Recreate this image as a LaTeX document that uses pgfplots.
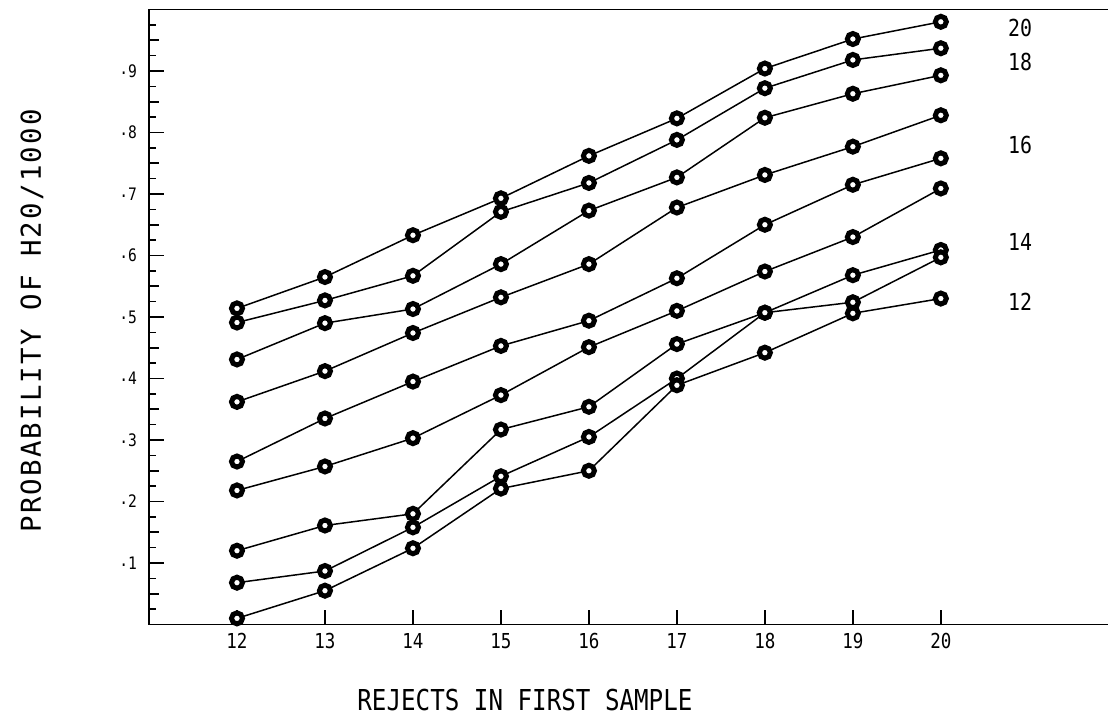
\documentclass[border=0pt]{standalone}
\usepackage{fontspec}
\usepackage{pgfplots}
\pgfplotsset{compat=1.18}
\newfontfamily\ylabfont{DejaVu Sans Mono}[LetterSpace=8]
\newfontfamily\xlabfont{DejaVu Sans Mono}[FakeStretch=0.84]
\newfontfamily\tickfont{DejaVu Sans Mono}[FakeStretch=0.85]
\newcommand{\dt}{\raisebox{1.6pt}{.}}
\pgfplotsset{ser/.style={black, solid, line width=0.75pt, mark=*,
     mark options={line width=2.5pt, draw=black, fill=white, mark size=2.75pt, solid}}}
\begin{document}
\begin{tikzpicture}
\begin{axis}[
  at={(0,0)}, anchor=south west,
  scale only axis, width=479.5pt, height=307.5pt,
  xmin=11, xmax=21.9, ymin=0, ymax=1,
  clip=false,
  axis lines=left, axis line style={-, line width=0.9pt},
  tick align=inside,
  major tick length=7.5pt, minor tick length=3.5pt,
  every tick/.style={black, line width=0.8pt},
  xtick={12,...,20}, xticklabels={12,13,14,15,16,17,18,19,20},
  xticklabel style={font=\tickfont\fontsize{10.3}{12}\selectfont, anchor=center, yshift=-8.2pt},
  ytick={0.1,0.2,0.3,0.4,0.5,0.6,0.7,0.8,0.9},
  yticklabels={\dt1,\dt2,\dt3,\dt4,\dt5,\dt6,\dt7,\dt8,\dt9},
  yticklabel style={font=\tickfont\fontsize{8.6}{10}\selectfont, anchor=east, xshift=-2.5pt},
  minor ytick={0.025,0.075,0.125,0.175,0.225,0.275,0.325,0.375,0.425,0.475,0.525,0.575,0.625,0.675,0.725,0.775,0.825,0.875,0.925,0.975},
  extra y ticks={0.05,0.15,0.25,0.35,0.45,0.55,0.65,0.75,0.85,0.95},
  extra y tick style={major tick length=5pt},
  extra y tick labels={},
  xlabel={REJECTS IN FIRST SAMPLE},
  xlabel style={font=\xlabfont\fontsize{14.4}{16}\selectfont, at={(axis description cs:0.392,-0.1228)}, anchor=center},
  ylabel={PROBABILITY OF H20/1000},
  ylabel style={font=\ylabfont\fontsize{13.7}{16}\selectfont, at={(axis description cs:-0.122,0.4935)}, anchor=center},
]
\addplot[ser] coordinates {(12,0.514)(13,0.565)(14,0.633)(15,0.693)(16,0.762)(17,0.823)(18,0.904)(19,0.952)(20,0.980)};
\addplot[ser] coordinates {(12,0.491)(13,0.527)(14,0.567)(15,0.671)(16,0.718)(17,0.788)(18,0.872)(19,0.918)(20,0.937)};
\addplot[ser] coordinates {(12,0.431)(13,0.490)(14,0.513)(15,0.586)(16,0.673)(17,0.727)(18,0.824)(19,0.863)(20,0.893)};
\addplot[ser] coordinates {(12,0.362)(13,0.412)(14,0.474)(15,0.532)(16,0.586)(17,0.678)(18,0.731)(19,0.777)(20,0.828)};
\addplot[ser] coordinates {(12,0.265)(13,0.335)(14,0.395)(15,0.453)(16,0.494)(17,0.563)(18,0.650)(19,0.715)(20,0.758)};
\addplot[ser] coordinates {(12,0.218)(13,0.257)(14,0.303)(15,0.373)(16,0.451)(17,0.510)(18,0.574)(19,0.630)(20,0.709)};
\addplot[ser] coordinates {(12,0.120)(13,0.161)(14,0.180)(15,0.317)(16,0.354)(17,0.456)(18,0.507)(19,0.568)(20,0.609)};
\addplot[ser] coordinates {(12,0.068)(13,0.087)(14,0.158)(15,0.241)(16,0.305)(17,0.400)(18,0.507)(19,0.524)(20,0.597)};
\addplot[ser] coordinates {(12,0.010)(13,0.055)(14,0.124)(15,0.221)(16,0.250)(17,0.389)(18,0.442)(19,0.506)(20,0.530)};
\draw[line width=0.9pt] (rel axis cs:0,1) -- (rel axis cs:1,1);
\begin{scope}[every node/.style={font=\tickfont\fontsize{11.7}{13}\selectfont}]
\node at (axis cs:20.9,0.970) {20};
\node at (axis cs:20.9,0.915) {18};
\node at (axis cs:20.9,0.780) {16};
\node at (axis cs:20.9,0.622) {14};
\node at (axis cs:20.9,0.524) {12};
\end{scope}
\end{axis}
\pgfresetboundingbox
\path[use as bounding box] (-74.5pt,-47.25pt) rectangle (479.5pt,312.25pt);
\end{tikzpicture}
\end{document}
